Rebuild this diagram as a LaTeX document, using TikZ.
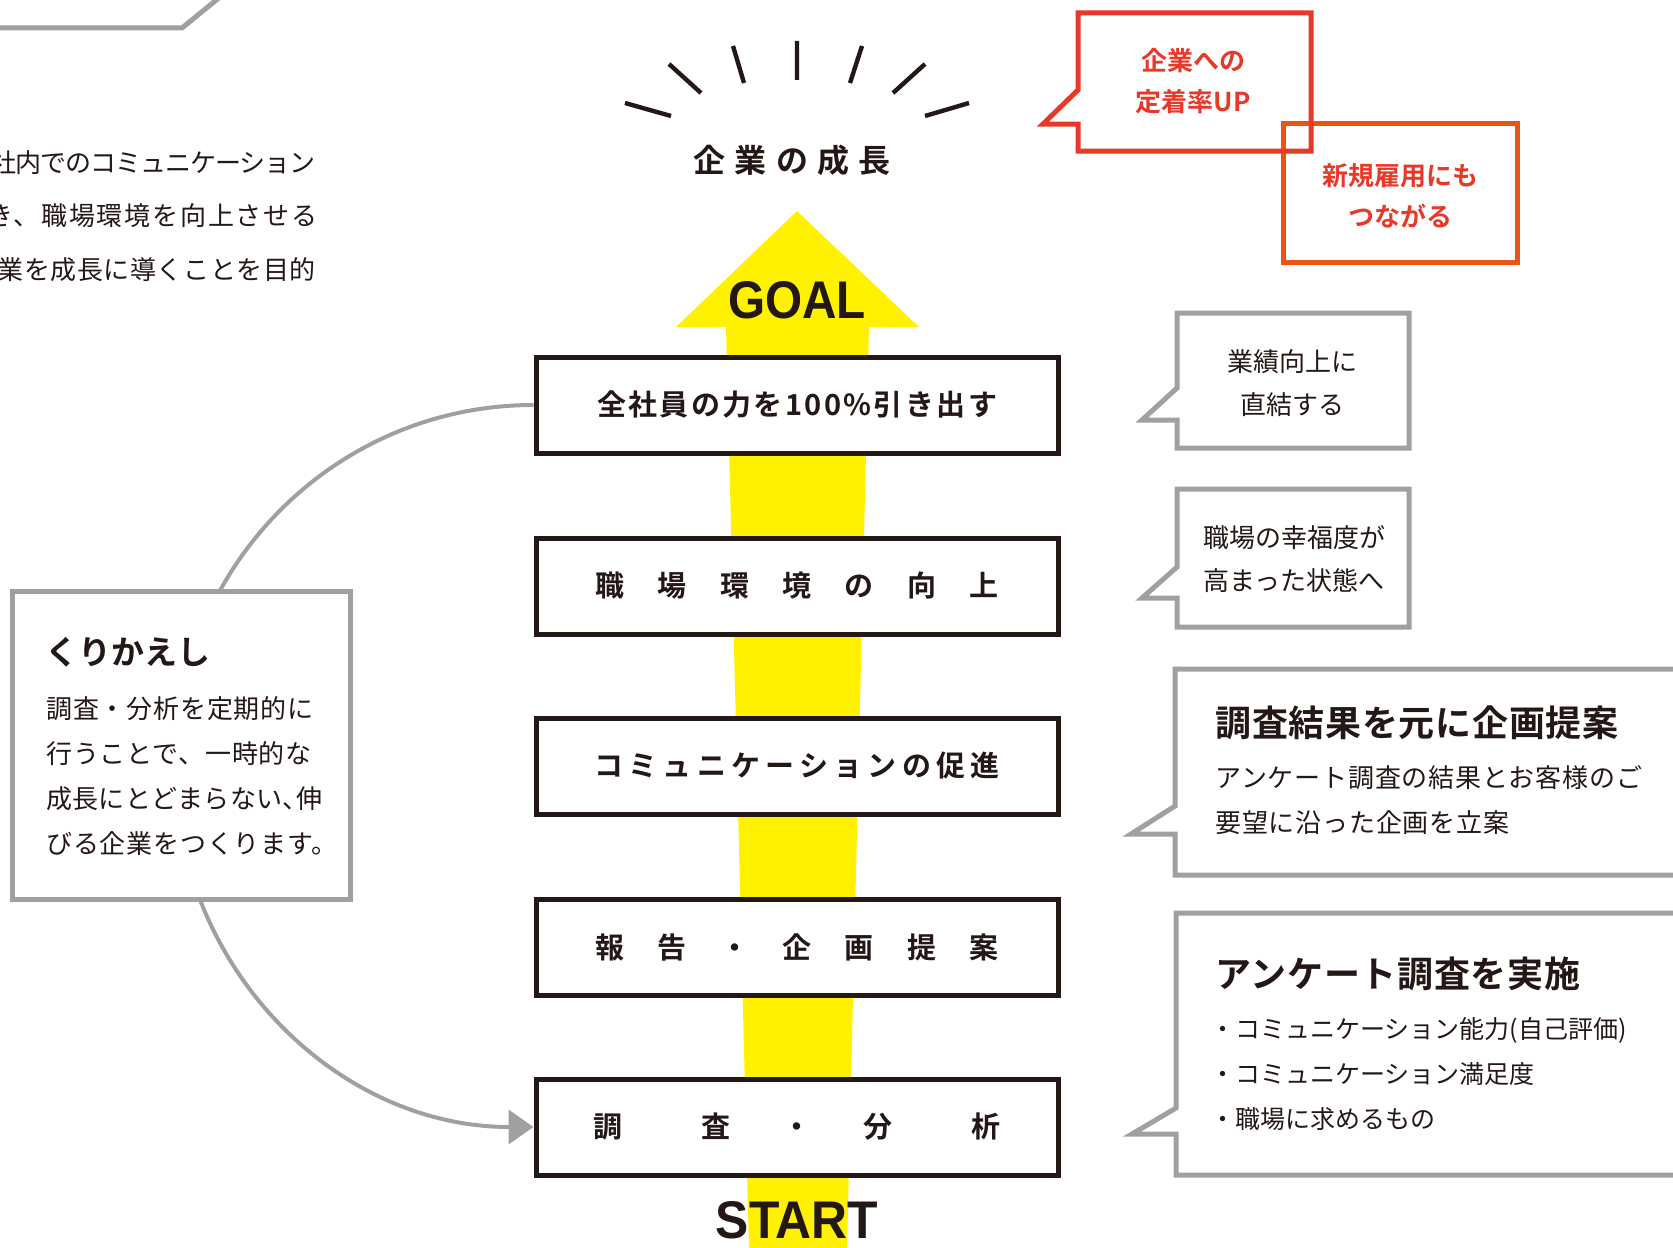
\documentclass[tikz,border=0pt]{standalone}
\usepackage{fontspec}
\setmainfont{Liberation Sans}
\newfontfamily\jp[BoldFont={Noto Sans CJK JP Bold}]{Noto Sans CJK JP}
\usetikzlibrary{arrows.meta}

\definecolor{ink}{HTML}{231815}
\definecolor{goalyellow}{HTML}{FFF100}
\definecolor{framegray}{HTML}{A0A0A0}
\definecolor{upred}{HTML}{E83828}
\definecolor{neworange}{HTML}{EA5514}

\begin{document}
\begin{tikzpicture}[x=0.5pt, y=-0.5pt,
    stepbox/.style={draw=ink, line width=2.5pt, fill=white, minimum width=261pt, minimum height=48pt, inner sep=0pt, text=ink, font=\jp\bfseries\fontsize{14.5}{16}\selectfont},
    bubble/.style={draw=framegray, line width=2.5pt},
    bodytext/.style={text=ink, inner sep=0pt, font=\jp\fontsize{13}{22.5}\selectfont\addfontfeature{LetterSpace=3}},
    graytext/.style={text=ink, inner sep=0pt, align=center, font=\jp\fontsize{13}{21.5}\selectfont},
    headtext/.style={text=ink, inner sep=0pt, anchor=west, font=\jp\bfseries\fontsize{18}{20}\selectfont\addfontfeature{LetterSpace=2}},
    redtext/.style={text=upred, inner sep=0pt, align=center, font=\jp\bfseries\fontsize{13}{20.5}\selectfont},
    bigword/.style={text=ink, inner sep=0pt, anchor=base, font=\bfseries\fontsize{26.5}{28}\selectfont}
]
    \useasboundingbox (0,0) rectangle (1673,1247);
    \clip (0,0) rectangle (1673,1247);

    % 左上の説明
    \draw[bubble] (-10,28) -- (182,28) -- (220,-3);
    \node[text=ink, inner sep=0pt, anchor=east, font=\jp\fontsize{13}{14}\selectfont\addfontfeature{LetterSpace=-4}] (intro1) at (316,163) {社内でのコミュニケーション};
    \node[text=ink, inner sep=0pt, anchor=east, font=\jp\fontsize{13}{14}\selectfont\addfontfeature{LetterSpace=7}] (intro2) at (318,216) {き、職場環境を向上させる};
    \node[text=ink, inner sep=0pt, anchor=east, font=\jp\fontsize{13}{14}\selectfont\addfontfeature{LetterSpace=2}] (intro3) at (316,270) {業を成長に導くことを目的};

    % 黄色の矢印
    \fill[goalyellow] (797,211) -- (919,327) -- (869,327) -- (847,1250) -- (749,1250) -- (726,327) -- (676,327) -- cycle;
    \node[bigword] (goal) at (797,318) {\scalebox{0.9}[1]{GOAL}};
    \node[bigword] (start) at (797,1238) {\scalebox{0.94}[1]{START}};

    % 企業の成長
    \draw[ink, line width=2.2pt] (625,103) -- (671,116) (669,64) -- (701,93) (733,46) -- (744,83) (797,41) -- (797,80)
        (862,46) -- (850,83) (925,64) -- (893,93) (969,103) -- (925,116);
    \node[text=ink, font=\jp\bfseries\fontsize{16}{18}\selectfont] (seicho) at (792,160) {\makebox[98.5pt][s]{企\hfill 業\hfill の\hfill 成\hfill 長}};

    % ステップ
    \node[stepbox] (zenin) at (797,405) {\makebox[200pt][s]{全\hfill 社\hfill 員\hfill の\hfill 力\hfill を\hfill 1\hfill 0\hfill 0\hfill \%\hfill 引\hfill き\hfill 出\hfill す}};
    \node[stepbox] (kankyo) at (797,586) {\makebox[201.5pt][s]{職\hfill 場\hfill 環\hfill 境\hfill の\hfill 向\hfill 上}};
    \node[stepbox] (sokushin) at (797,766) {\makebox[202.5pt][s]{コ\hfill ミ\hfill ュ\hfill ニ\hfill ケ\hfill ー\hfill シ\hfill ョ\hfill ン\hfill の\hfill 促\hfill 進}};
    \node[stepbox] (teian) at (797,947) {\makebox[201.5pt][s]{報\hfill 告\hfill ・\hfill 企\hfill 画\hfill 提\hfill 案}};
    \node[stepbox] (chosa) at (797,1127) {調\hspace{40pt}査\hspace{25.5pt}・\hspace{26pt}分\hspace{40pt}析};

    % くりかえし
    \draw[framegray, line width=2pt, -{Triangle[length=12.5pt, width=17pt]}] (zenin.west) .. controls +(-199,0) and +(0,-199) .. (175,766)
        .. controls +(0,199) and +(-199,0) .. (chosa.west);
    \draw[bubble, fill=white] (12,591) rectangle (350,899);
    \node[headtext, font=\jp\bfseries\fontsize{16.5}{18}\selectfont] (kurititle) at (45,652) {くりかえし};
    \node[bodytext, anchor=west, align=left, font=\jp\fontsize{13}{22.6}\selectfont\addfontfeature{LetterSpace=3}] (kuribody) at (46,776)
        {調査・分析を定期的に\\行うことで、一時的な\\{\addfontfeature{LetterSpace=1}成長にとどまらない\makebox[7pt][l]{、}伸}\\びる企業をつくります。};

    % 赤い吹き出し
    \draw[neworange, line width=2.5pt] (1283,123) rectangle (1517,262);
    \draw[upred, line width=2.5pt] (1078,13) -- (1311,13) -- (1311,151) -- (1078,151) -- (1078,124) -- (1043,124) -- (1078,90) -- cycle;
    \node[redtext] (teichaku) at (1193,81.5) {企業への\\定着率UP};
    \node[redtext] (koyo) at (1400,195.5) {新規雇用にも\\つながる};

    % 灰色の吹き出し
    \draw[bubble] (1177,313) -- (1409,313) -- (1409,448) -- (1177,448) -- (1177,420) -- (1142,420) -- (1177,388) -- cycle;
    \node[graytext] (gyoseki) at (1292,383.5) {業績向上に\\直結する};
    \draw[bubble] (1177,489) -- (1409,489) -- (1409,627) -- (1177,627) -- (1177,598) -- (1142,598) -- (1177,567) -- cycle;
    \node[graytext] (kofuku) at (1294,559) {職場の幸福度が\\高まった状態へ};

    \draw[bubble] (1175,669) -- (1690,669) -- (1690,875) -- (1175,875) -- (1175,834) -- (1131,834) -- (1175,806) -- cycle;
    \node[headtext] (kikaku) at (1215,723) {調査結果を元に企画提案};
    \node[bodytext, anchor=west, align=left] (kikakubody) at (1215,800.5) {アンケート調査の結果とお客様のご\\要望に沿った企画を立案};

    \draw[bubble] (1176,913) -- (1690,913) -- (1690,1175) -- (1176,1175) -- (1176,1134) -- (1132,1134) -- (1176,1108) -- cycle;
    \node[headtext] (jisshi) at (1215,974) {アンケート調査を実施};
    \node[bodytext, anchor=west, align=left, font=\jp\fontsize{12.5}{22.4}\selectfont] (jisshibody) at (1210,1074)
        {・コミュニケーション能力(自己評価)\\・コミュニケーション満足度\\・職場に求めるもの};
\end{tikzpicture}
\end{document}
